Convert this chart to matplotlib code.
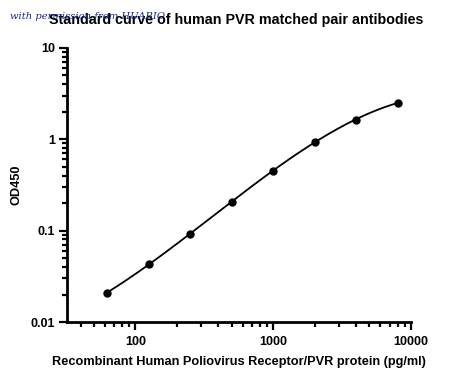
import numpy as np
import matplotlib
matplotlib.use("Agg")
import matplotlib.pyplot as plt
from matplotlib.ticker import LogLocator, NullFormatter, FixedLocator

concentration = [62.5, 125, 250, 500, 1000, 2000, 4000, 8000]
od450 = [0.0209, 0.0436, 0.0914, 0.206, 0.454, 0.935, 1.64, 2.49]
x_ticks = [100, 1000, 10000]
x_tick_labels = ["100", "1000", "10000"]
y_ticks = [0.01, 0.1, 1, 10]
y_tick_labels = ["0.01", "0.1", "1", "10"]

plt.rcParams['font.family'] = ['Liberation Sans', 'DejaVu Sans']

fig = plt.figure(figsize=(4.5, 3.82), dpi=100)
ax = fig.add_axes([0.148, 0.157, 0.765, 0.718])

# smooth fitted curve in log-log space
lx = np.log10(concentration)
ly = np.log10(od450)
coef = np.polyfit(lx, ly, 3)
xs = np.linspace(lx.min(), lx.max(), 200)
ax.plot(10 ** xs, 10 ** np.polyval(coef, xs), color='black', lw=1.3, zorder=2)
ax.plot(concentration, od450, 'o', color='black', ms=5, zorder=3)

ax.set_xscale('log')
ax.set_yscale('log')
ax.set_xlim(10 ** 1.5, 10000)
ax.set_ylim(0.01, 10)

ax.xaxis.set_major_locator(FixedLocator(x_ticks))
ax.set_xticklabels(x_tick_labels)
ax.yaxis.set_major_locator(FixedLocator(y_ticks))
ax.set_yticklabels(y_tick_labels)
ax.xaxis.set_minor_locator(LogLocator(base=10, subs=np.arange(2, 10)))
ax.yaxis.set_minor_locator(LogLocator(base=10, subs=np.arange(2, 10)))
ax.xaxis.set_minor_formatter(NullFormatter())
ax.yaxis.set_minor_formatter(NullFormatter())

for s in ['top', 'right']:
    ax.spines[s].set_visible(False)
for s in ['left', 'bottom']:
    ax.spines[s].set_linewidth(2)

ax.tick_params(which='major', length=6, width=1.6, labelsize=9, pad=2)
ax.tick_params(axis='x', which='major', pad=4)
ax.tick_params(which='minor', length=3.5, width=1.6)
for lab in ax.get_xticklabels() + ax.get_yticklabels():
    lab.set_fontweight('bold')

ax.set_xlabel("Recombinant Human Poliovirus Receptor/PVR protein (pg/ml)",
              fontsize=9.2, fontweight='bold', labelpad=6)
ax.set_ylabel("OD450", fontsize=9.2, fontweight='bold', labelpad=6)
fig.text(0.525, 0.948, "Standard curve of human PVR matched pair antibodies",
         ha='center', va='center', fontsize=10.3, fontweight='bold')
fig.text(0.022, 0.958, "with permission from HUABIO", ha='left', va='center',
         fontsize=7.2, style='italic', family='DejaVu Serif', color='#1a2a7a')

fig.savefig("out.png", dpi=100)
